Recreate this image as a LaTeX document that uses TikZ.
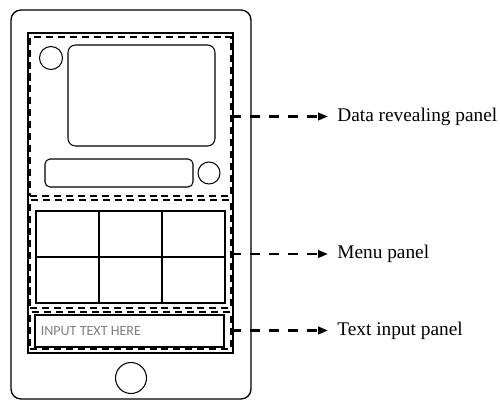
\documentclass[tikz,border=0pt]{standalone}
\usepackage{fontspec}
\setmainfont{Liberation Serif}
\newfontfamily\inputfont{Carlito}
\usepackage{tikz}
\usetikzlibrary{positioning,arrows.meta}

\begin{document}
\begin{tikzpicture}[
	panel/.style={draw, line width=0.75pt, dash pattern=on 4pt off 2.8pt, outer sep=0pt, inner sep=0pt},
	part/.style={draw, line width=0.6pt},
	pointer/.style={line width=1.4pt, dash pattern=on 0.2cm off 0.18cm, -{Triangle[length=0.2cm, width=0.15cm]}},
	lbl/.style={font=\fontsize{11}{13}\selectfont, inner xsep=0.18cm, anchor=west}
]
\useasboundingbox (0,0) rectangle (10,8.02);
\draw[line width=0.75pt, rounded corners=0.2cm](0.22,0.04) rectangle (5.02,7.82);
\draw[line width=0.8pt](0.56,0.96) rectangle (4.66,7.36);
\node[panel, minimum width=4.02cm, minimum height=3.18cm] (datapanel) at (2.61,5.69) {};
\node[panel, minimum width=4.02cm, minimum height=2.16cm] (menupanel) at (2.61,2.94) {};
\node[panel, minimum width=4.02cm, minimum height=0.74cm] (textpanel) at (2.61,1.41) {};
\draw[part](1.02,6.86) circle[radius=0.23];
\draw[part, rounded corners=0.15cm](1.36,5.10) rectangle (4.30,7.12);
\draw[part, rounded corners=0.1cm](0.90,4.28) rectangle (3.86,4.84);
\draw[part](4.18,4.56) circle[radius=0.22];
\draw[part](0.72,1.96) rectangle (4.50,3.80);
\foreach \x in {1.98,3.24}{
	\draw[part](\x,1.96)--(\x,3.80);
}
\draw[part](0.72,2.88)--(4.50,2.88);
\node[part, minimum width=3.78cm, minimum height=0.64cm, inner sep=0pt] (inputbox) at (2.59,1.40) {};
\node[anchor=west, inner sep=0pt, text=black!50, font=\inputfont\fontsize{8}{10}\selectfont] (inputtext) at ([xshift=0.12cm]inputbox.west) {INPUT TEXT HERE};
\draw[part](2.62,0.46) circle[radius=0.31];
\node[lbl, right=1.94cm of datapanel.east] (datalbl) {Data revealing panel};
\node[lbl, right=1.94cm of menupanel.east] (menulbl) {Menu panel};
\node[lbl, right=1.94cm of textpanel.east] (textlbl) {Text input panel};
\draw[pointer](datapanel.east)--(datalbl.west);
\draw[pointer](menupanel.east)--(menulbl.west);
\draw[pointer](textpanel.east)--(textlbl.west);
\end{tikzpicture}
\end{document}
